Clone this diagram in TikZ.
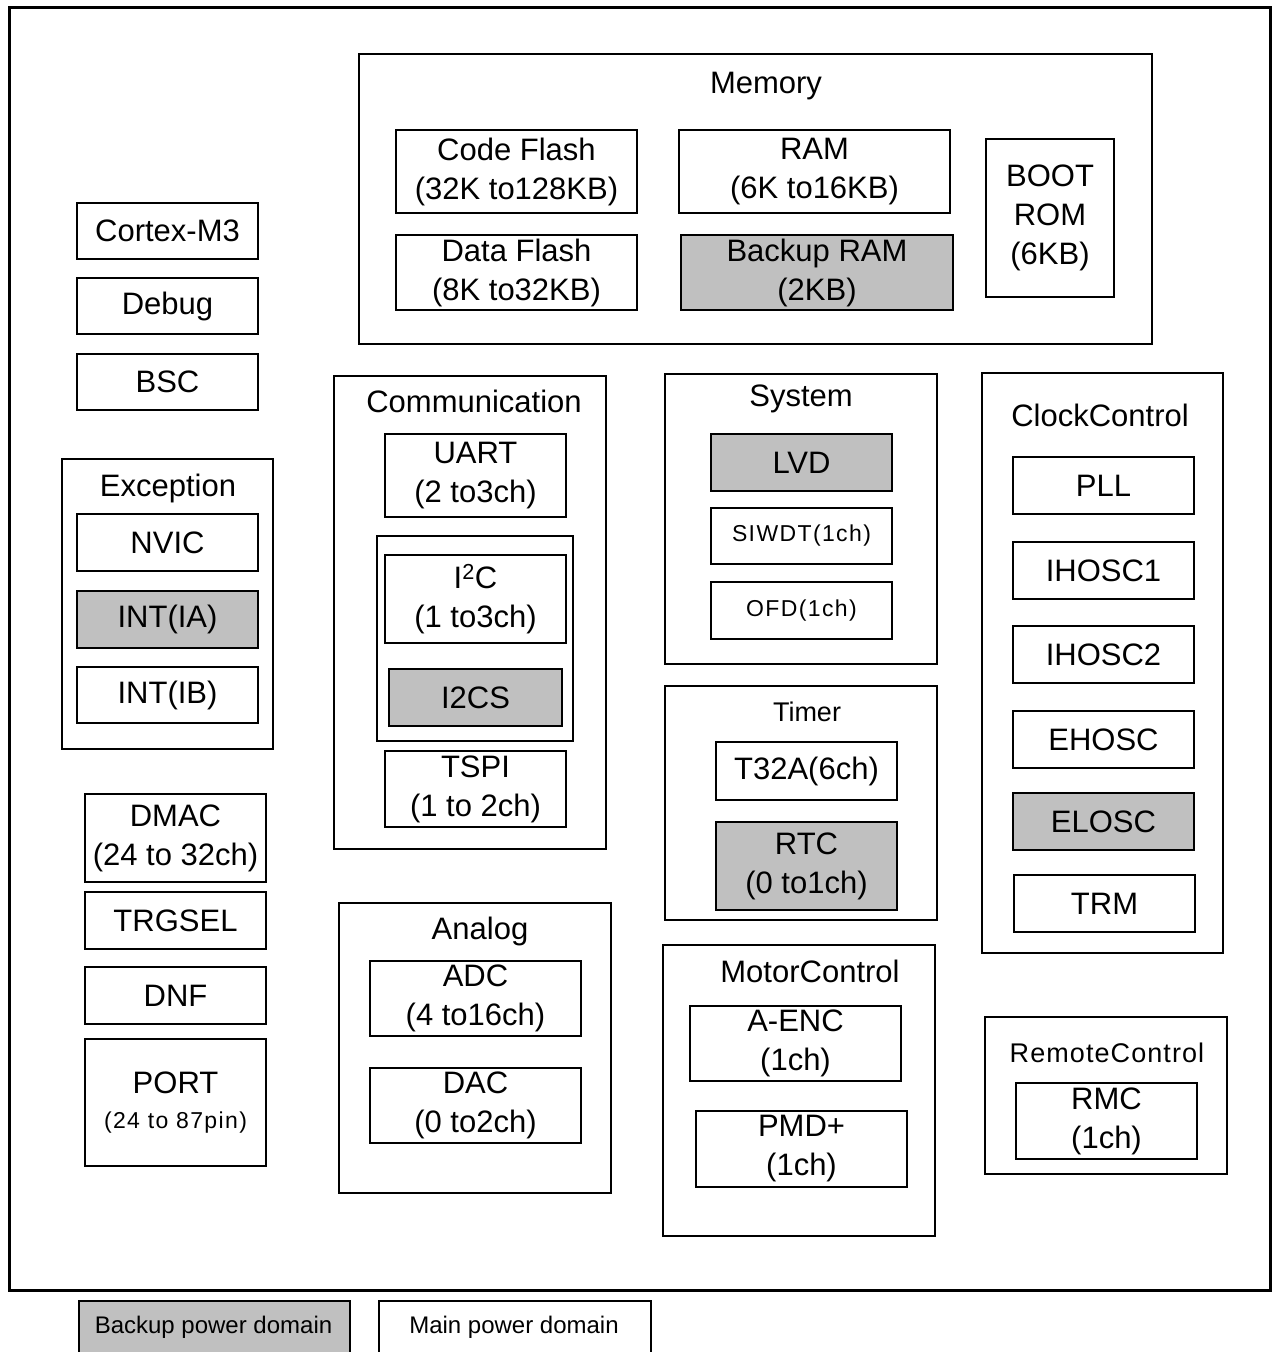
\documentclass[tikz,border=0pt]{standalone}
\usepackage{fontspec}
\setmainfont{Liberation Sans}
\newfontfamily\spaced[LetterSpace=6]{Liberation Sans}
\definecolor{bkgray}{RGB}{192,192,192}
\begin{document}
\begin{tikzpicture}[x=1pt,y=-1pt,
  box/.style={draw, line width=1.6, inner sep=0, align=center, fill=white,
    font=\fontsize{31}{39}\selectfont},
  bk/.style={box, fill=bkgray},
  grp/.style={draw, line width=2.2, inner sep=0},
  ttl/.style={inner sep=0, font=\fontsize{31}{38}\selectfont},
  sm/.style={font=\fontsize{23}{28}\selectfont\spaced},
  bx/.style 2 args={minimum width=#1, minimum height=#2}]
\useasboundingbox (0,0) rectangle (1274,1352);
% outer
\draw[line width=3] (9,7) rectangle (1270,1290);

% Memory
\node[grp, bx={793}{290}] (mem) at (755.5,199) {};
\node[ttl] (memT) at (766,86) {Memory};
\node[box, bx={241}{83}] (cflash) at (516.5,171.5) {Code Flash\\(32K to128KB)};
\node[box, bx={241}{75}] (dflash) at (516.5,272.5) {Data Flash\\(8K to32KB)};
\node[box, bx={271}{83}] (ram) at (814.5,171.5) {RAM\\(6K to16KB)};
\node[bk, bx={272}{75}] (bram) at (817,272.5) {Backup RAM\\(2KB)};
\node[box, bx={128}{158}] (boot) at (1050,218) {BOOT\\ROM\\(6KB)};

% left column
\node[box, bx={181}{56}] (cm3) at (167.5,231) {Cortex-M3};
\node[box, bx={181}{56}] (dbg) at (167.5,306) {Debug};
\node[box, bx={181}{56}] (bsc) at (167.5,382) {BSC};

% Exception
\node[grp, bx={211}{290}] (exc) at (167.5,604) {};
\node[ttl] (excT) at (168,488) {Exception};
\node[box, bx={181}{57}] (nvic) at (167.5,542.5) {NVIC};
\node[bk, bx={181}{57}] (inta) at (167.5,619.5) {INT(IA)};
\node[box, bx={181}{56}] (intb) at (167.5,695) {INT(IB)};

% DMAC etc
\node[box, bx={181}{88}] (dmac) at (175.5,838) {DMAC\\(24 to 32ch)};
\node[box, bx={181}{57}] (trg) at (175.5,920.5) {TRGSEL};
\node[box, bx={181}{57}] (dnf) at (175.5,995.5) {DNF};
\node[box, bx={181}{127}] (port) at (175.5,1102.5) {PORT\\[-4pt]{\fontsize{23}{28}\selectfont\spaced (24 to 87pin)}};

% Communication
\node[grp, bx={272}{473}] (com) at (470,612.5) {};
\node[ttl] (comT) at (474,401) {Communication};
\node[box, bx={181}{83}] (uart) at (475.5,475.5) {UART\\(2 to3ch)};
\node[draw, line width=1.3, inner sep=0, bx={196}{205}] (i2cg) at (475,638.5) {};
\node[box, bx={181}{88}] (i2c) at (475.5,599) {I\textsuperscript{2}C\\(1 to3ch)};
\node[bk, bx={173}{57}] (i2cs) at (475.5,697.5) {I2CS};
\node[box, bx={181}{76}] (tspi) at (475.5,789) {TSPI\\(1 to 2ch)};

% Analog
\node[grp, bx={272}{290}] (ana) at (475,1048) {};
\node[ttl] (anaT) at (480,931) {Analog};
\node[box, bx={211}{75}] (adc) at (475.5,998.5) {ADC\\(4 to16ch)};
\node[box, bx={211}{75}] (dac) at (475.5,1105.5) {DAC\\(0 to2ch)};

% System
\node[grp, bx={272}{290}] (sys) at (801,519) {};
\node[ttl] (sysT) at (801,399) {System};
\node[bk, bx={181}{57}] (lvd) at (801.5,462.5) {LVD};
\node[box, bx={181}{56}, sm] (siwdt) at (801.5,536) {SIWDT(1ch)};
\node[box, bx={181}{57}, sm] (ofd) at (801.5,610.5) {OFD(1ch)};

% Timer
\node[grp, bx={272}{234}] (tim) at (801,803) {};
\node[ttl, font=\fontsize{27}{32}\selectfont] (timT) at (807,712) {Timer};
\node[box, bx={181}{58}] (t32a) at (806.5,771) {T32A(6ch)};
\node[bk, bx={181}{88}] (rtc) at (806.5,866) {RTC\\(0 to1ch)};

% MotorControl
\node[grp, bx={272}{291}] (mot) at (799,1090.5) {};
\node[ttl] (motT) at (810,971) {MotorControl};
\node[box, bx={211}{75}] (aenc) at (795.5,1043.5) {A-ENC\\(1ch)};
\node[box, bx={211}{76}] (pmd) at (801.5,1149) {PMD+\\(1ch)};

% ClockControl
\node[grp, bx={241}{580}] (clk) at (1102.5,663) {};
\node[ttl] (clkT) at (1100,415) {ClockControl};
\node[box, bx={181}{57}] (pll) at (1103.5,485.5) {PLL};
\node[box, bx={181}{57}] (ih1) at (1103.5,570.5) {IHOSC1};
\node[box, bx={181}{57}] (ih2) at (1103.5,654.5) {IHOSC2};
\node[box, bx={181}{57}] (eh) at (1103.5,739.5) {EHOSC};
\node[bk, bx={181}{57}] (el) at (1103.5,821.5) {ELOSC};
\node[box, bx={181}{57}] (trm) at (1104.5,903.5) {TRM};

% RemoteControl
\node[grp, bx={242}{157}] (rem) at (1106,1095.5) {};
\node[ttl, font=\fontsize{27}{32}\selectfont\addfontfeatures{LetterSpace=4}] (remT) at (1107,1053) {RemoteControl};
\node[box, bx={181}{76}] (rmc) at (1106.5,1121) {RMC\\(1ch)};

% Legend
\node[draw, line width=1.6, fill=bkgray, inner sep=0, bx={271}{80}, anchor=north west] (lgb) at (78,1300) {};
\node[inner sep=0, font=\fontsize{24}{28}\selectfont] (lgbT) at (213.5,1327) {Backup power domain};
\node[draw, line width=1.6, inner sep=0, bx={272}{80}, anchor=north west] (lgm) at (378,1300) {};
\node[inner sep=0, font=\fontsize{24}{28}\selectfont] (lgmT) at (514,1327) {Main power domain};
\end{tikzpicture}
\end{document}
